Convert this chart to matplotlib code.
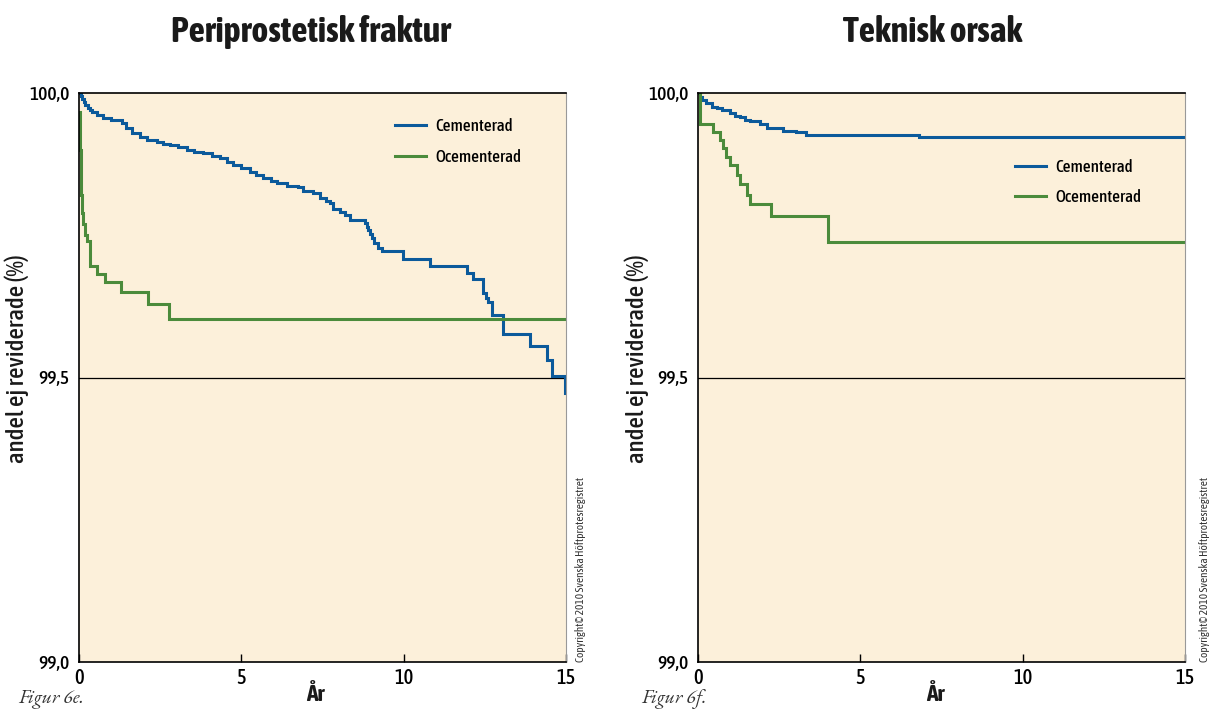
import matplotlib
matplotlib.use("Agg")
import matplotlib.pyplot as plt

# ---------------- data ----------------
x_ticks = [0, 5, 10, 15]
y_ticks = [99.0, 99.5, 100.0]
y_ticklabels = ["99,0", "99,5", "100,0"]
series_names = ["Cementerad", "Ocementerad"]

# Figur 6e - Periprostetisk fraktur
frak_cem_t = [0, 0.05, 0.1, 0.15, 0.2, 0.27, 0.33, 0.39, 0.55, 0.75, 1.0, 1.31, 1.45, 1.62,
              1.88, 2.1, 2.39, 2.6, 2.8, 3.05, 3.32, 3.55, 3.83, 4.1, 4.34, 4.55, 4.75, 5.0,
              5.27, 5.45, 5.68, 5.9, 6.1, 6.40, 6.75, 6.91, 7.22, 7.42, 7.6, 7.73, 7.83, 8.04,
              8.2, 8.35, 8.81, 8.86, 8.91, 8.96, 9.01, 9.1, 9.22, 9.32, 9.99, 10.81, 11.94,
              12.14, 12.45, 12.55, 12.61, 12.71, 13.07, 13.89, 14.40, 14.56, 14.97, 15.0]
frak_cem_v = [100.0, 99.995, 99.990, 99.984, 99.979, 99.974, 99.970, 99.967, 99.962, 99.956,
              99.952, 99.947, 99.938, 99.929, 99.923, 99.918, 99.914, 99.911, 99.909, 99.905,
              99.900, 99.897, 99.894, 99.890, 99.885, 99.879, 99.873, 99.868, 99.862, 99.856,
              99.850, 99.846, 99.842, 99.837, 99.835, 99.827, 99.824, 99.815, 99.810, 99.806,
              99.797, 99.791, 99.785, 99.777, 99.771, 99.765, 99.759, 99.752, 99.745, 99.736,
              99.727, 99.722, 99.709, 99.696, 99.684, 99.673, 99.648, 99.640, 99.633, 99.610,
              99.576, 99.555, 99.531, 99.503, 99.472, 99.472]
frak_ocem_t = [0, 0.02, 0.05, 0.08, 0.13, 0.18, 0.24, 0.34, 0.54, 0.80, 1.29, 2.13, 2.76, 15.0]
frak_ocem_v = [99.967, 99.90, 99.82, 99.789, 99.770, 99.750, 99.740, 99.696, 99.682, 99.667,
               99.651, 99.629, 99.603, 99.603]

# Figur 6f - Teknisk orsak
tekn_cem_t = [0, 0.05, 0.11, 0.25, 0.42, 0.6, 0.73, 0.98, 1.15, 1.29, 1.45, 1.60, 1.91, 2.11,
              2.62, 3.03, 3.34, 6.82, 15.0]
tekn_cem_v = [100.0, 99.993, 99.988, 99.982, 99.976, 99.973, 99.970, 99.964, 99.960, 99.957,
              99.953, 99.950, 99.945, 99.938, 99.934, 99.931, 99.926, 99.923, 99.923]
tekn_ocem_t = [0, 0.06, 0.47, 0.68, 0.78, 0.85, 0.98, 1.19, 1.29, 1.50, 1.60, 2.24, 4.01, 15.0]
tekn_ocem_v = [100.0, 99.945, 99.932, 99.917, 99.903, 99.888, 99.873, 99.856, 99.840, 99.821,
               99.805, 99.783, 99.738, 99.738]

titles = ["Periprostetisk fraktur", "Teknisk orsak"]
fig_labels = ["Figur 6e.", "Figur 6f."]
x_label = "År"
y_label = "andel ej reviderade (%)"
copyright_text = "Copyright© 2010 Svenska Höftprotesregistret"

# ---------------- style ----------------
FONT = ["Asap Condensed", "DejaVu Sans"]
SERIF = ["EB Garamond", "Liberation Serif", "DejaVu Serif"]
plt.rcParams["font.family"] = FONT
plt.rcParams["font.weight"] = 500

BG = "#fcf0da"
BLUE = "#0b5a9b"
GREEN = "#4b8b3b"
W, H = 1211, 711
PX = 100 / 72.0  # pixels per point

fig = plt.figure(figsize=(W / 100, H / 100), dpi=100)
renderer = fig.canvas.get_renderer()


def fit_size(s, target_px, **kw):
    t = fig.text(0, 0, s, fontsize=10, **kw)
    ext = t.get_window_extent(renderer=renderer)
    t.remove()
    return 10 * target_px / ext.width, ext.height / 10


fs_title, _ = fit_size(titles[0], 280, fontweight="bold")
fs_tick, _ = fit_size("100,0", 40)
fs_leg, h_leg = fit_size(series_names[0], 77)
fs_ylab, _ = fit_size(y_label, 208)
fs_xlab, _ = fit_size(x_label, 18, fontweight="bold")
fs_copy, _ = fit_size(copyright_text, 185)
fs_fig, _ = fit_size(fig_labels[0], 66, family=SERIF, style="italic")
leg_px = fs_leg * PX

panels = [
    dict(left=79, cem=(frak_cem_t, frak_cem_v), ocem=(frak_ocem_t, frak_ocem_v),
         leg=(395, 142), title_x=311, ylab_x=17, xlab_x=315, fig_x=18, copy_x=580),
    dict(left=698, cem=(tekn_cem_t, tekn_cem_v), ocem=(tekn_ocem_t, tekn_ocem_v),
         leg=(1015, 182.5), title_x=933, ylab_x=637, xlab_x=935, fig_x=641, copy_x=1205),
]

AX_TOP, AX_BOT, AX_W = 93, 662, 487

for i, p in enumerate(panels):
    ax = fig.add_axes([p["left"] / W, 1 - AX_BOT / H, AX_W / W, (AX_BOT - AX_TOP) / H])
    ax.set_facecolor(BG)
    ax.plot(p["cem"][0], p["cem"][1], drawstyle="steps-post", color=BLUE, lw=2.2,
            label=series_names[0], solid_joinstyle="miter")
    ax.plot(p["ocem"][0], p["ocem"][1], drawstyle="steps-post", color=GREEN, lw=2.2,
            label=series_names[1], solid_joinstyle="miter")
    ax.axhline(99.5, color="black", lw=0.9, zorder=1)
    ax.set_xlim(0, 15)
    ax.set_ylim(99.0, 100.0)
    ax.set_xticks(x_ticks)
    ax.set_xticklabels([str(t) for t in x_ticks], fontsize=fs_tick * 1.05)
    ax.set_yticks(y_ticks)
    ax.set_yticklabels(y_ticklabels, fontsize=fs_tick)
    ax.tick_params(axis="x", direction="in", length=6, width=1, pad=4, colors="black")
    ax.tick_params(axis="y", length=0, pad=7)
    for s in ["top", "left", "bottom"]:
        ax.spines[s].set_color("black")
        ax.spines[s].set_linewidth(1.2)
    ax.spines["right"].set_color("#999999")
    ax.spines["right"].set_linewidth(0.8)

    lx = (p["leg"][0] - p["left"]) / AX_W
    ly = (AX_BOT - p["leg"][1]) / (AX_BOT - AX_TOP)
    ax.legend(loc="center left", bbox_to_anchor=(lx, ly), frameon=False, fontsize=fs_leg,
              borderpad=0, borderaxespad=0, handlelength=31 / leg_px,
              handletextpad=9 / leg_px, labelspacing=max(0.05, (30.5 - h_leg * fs_leg) / leg_px))

    fig.text(p["title_x"] / W, 1 - 42 / H, titles[i], ha="center", va="baseline",
             fontsize=fs_title, fontweight="bold", color="#1a1a1a")
    fig.text(p["ylab_x"] / W, 1 - 359 / H, y_label, rotation=90, ha="center", va="center",
             fontsize=fs_ylab, color="#1a1a1a")
    fig.text(p["xlab_x"] / W, 1 - 701 / H, x_label, ha="center", va="baseline",
             fontsize=fs_xlab, fontweight="bold", color="#1a1a1a")
    fig.text(p["fig_x"] / W, 1 - 703 / H, fig_labels[i], ha="left", va="baseline",
             fontsize=fs_fig, family=SERIF, style="italic", color="#333333")
    fig.text(p["copy_x"] / W, 1 - 569 / H, copyright_text, rotation=90, ha="center",
             va="center", fontsize=fs_copy, color="#333333", fontweight=400)

fig.savefig("out.png", dpi=100, facecolor="white")
